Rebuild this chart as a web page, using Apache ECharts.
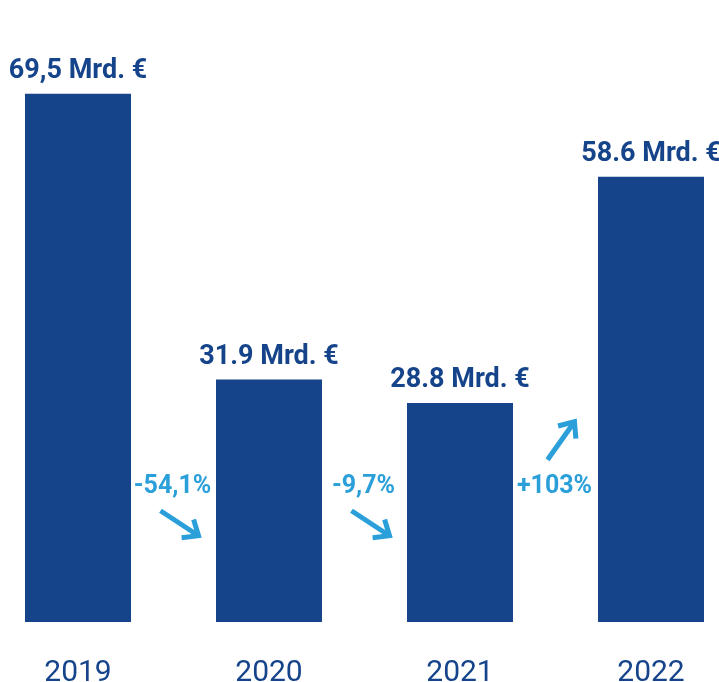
<!DOCTYPE html>
<html>
<head>
<meta charset="utf-8">
<script src="https://cdn.jsdelivr.net/npm/echarts@6/dist/echarts.min.js"></script>
<style>html,body{margin:0;padding:0;background:#fff;}#c{width:719px;height:682px;}</style>
</head>
<body>
<div id="c"></div>
<script>
const categories = ['2019', '2020', '2021', '2022'];
const values = [69.5, 31.9, 28.8, 58.6];
const valueLabels = ['69,5 Mrd. €', '31.9 Mrd. €', '28.8 Mrd. €', '58.6 Mrd. €'];
const changeLabels = ['-54,1%', '-9,7%', '+103%'];
const changeDirections = ['down', 'down', 'up'];

const DARK = '#16448a';
const LIGHT = '#2a9fd9';
const FONT = 'Roboto, "Liberation Sans", sans-serif';

const chart = echarts.init(document.getElementById('c'), null, {renderer: 'canvas'});
chart.setOption({
  animation: false,
  backgroundColor: '#fff',
  grid: {left: -17.5, right: -27.5, top: 14, bottom: 60, containLabel: false, outerBoundsMode: 'none'},
  xAxis: {
    type: 'category', data: categories,
    axisLine: {show: false}, axisTick: {show: false},
    axisLabel: {color: DARK, fontFamily: FONT, fontSize: 30, margin: 36}
  },
  yAxis: {type: 'value', min: 0, max: 80, show: false, splitLine: {show: false}},
  series: [{
    type: 'bar', data: values, barWidth: 106,
    itemStyle: {color: DARK},
    label: {
      show: true, position: 'top', distance: 9,
      color: DARK, fontFamily: FONT, fontWeight: 'bold', fontSize: 27,
      formatter: p => valueLabels[p.dataIndex]
    }
  }]
});

function arrow(x0, y0, x1, y1) {
  const dx = x1 - x0, dy = y1 - y0, len = Math.hypot(dx, dy);
  const ux = dx / len, uy = dy / len;
  const hl = 17, a = 40 * Math.PI / 180;
  const bx = -ux, by = -uy;
  const h1 = [x1 + hl * (bx * Math.cos(a) - by * Math.sin(a)), y1 + hl * (bx * Math.sin(a) + by * Math.cos(a))];
  const h2 = [x1 + hl * (bx * Math.cos(-a) - by * Math.sin(-a)), y1 + hl * (bx * Math.sin(-a) + by * Math.cos(-a))];
  return [
    {type: 'polyline', z: 100, shape: {points: [[x0, y0], [x1, y1]]}, style: {stroke: LIGHT, lineWidth: 5, lineCap: 'butt', fill: null}},
    {type: 'polyline', z: 100, shape: {points: [h1, [x1, y1], h2]}, style: {stroke: LIGHT, lineWidth: 5, lineJoin: 'miter', lineCap: 'butt', fill: null}}
  ];
}

const graphics = [];
const yText = chart.convertToPixel({yAxisIndex: 0}, 17.8);
changeLabels.forEach((txt, i) => {
  const xa = chart.convertToPixel({xAxisIndex: 0}, categories[i]);
  const xb = chart.convertToPixel({xAxisIndex: 0}, categories[i + 1]);
  const xm = (xa + xb) / 2;
  graphics.push({
    type: 'text', z: 100, x: xm - 1, y: yText,
    style: {text: txt, fill: LIGHT, font: 'bold 25px ' + FONT, textAlign: 'center', textVerticalAlign: 'middle'}
  });
  if (changeDirections[i] === 'down') {
    graphics.push(...arrow(xm - 13, yText + 24, xm + 25, yText + 49));
  } else {
    graphics.push(...arrow(xm - 8, yText - 27, xm + 19, yText - 65));
  }
});
chart.setOption({graphic: graphics});
</script>
</body>
</html>
